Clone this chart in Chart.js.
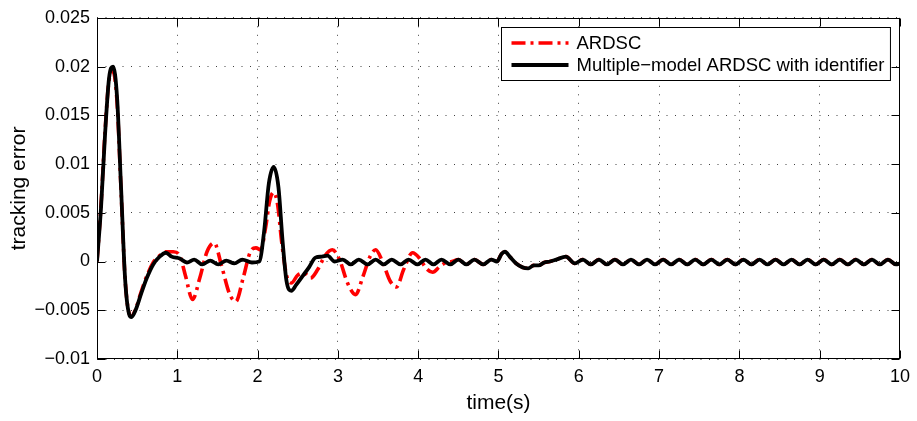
<!DOCTYPE html>
<html>
<head>
<meta charset="utf-8">
<script src="https://cdn.jsdelivr.net/npm/chart.js@4/dist/chart.umd.min.js"></script>
<style>
html,body{margin:0;padding:0;background:#fff;}
#wrap{width:917px;height:421px;position:relative;}
</style>
</head>
<body>
<div id="wrap"><canvas id="c" width="917" height="421"></canvas></div>
<script>
const FONT = "'Liberation Sans', Arial, Helvetica, sans-serif";

const xTickValues = [0,1,2,3,4,5,6,7,8,9,10];
const xTickLabels = ['0','1','2','3','4','5','6','7','8','9','10'];
const yTickValues = [-0.01,-0.005,0,0.005,0.01,0.015,0.02,0.025];
const yTickLabels = ['\u22120.01','\u22120.005','0','0.005','0.01','0.015','0.02','0.025'];
const seriesNames = ['ARDSC','Multiple\u2212model ARDSC with identifier'];
const axisTitles = {x:'time(s)', y:'tracking error'};

// Multiple-model ARDSC with identifier (black) — first part
const mmTimes = [0.00,0.05,0.10,0.15,0.20,0.25,0.30,0.35,0.40,0.43,0.48,0.55,0.62,0.70,0.78,0.86,0.93,
  1.03,1.12,1.21,1.31,1.41,1.51,1.61,1.71,1.81,1.93,2.02,2.08,2.14,2.20,2.26,2.31,2.36,2.42,2.48,2.56,2.64,2.72,2.80,2.87,2.96,
  3.06,3.16,3.26,3.37,3.47,3.57,3.67,3.78,3.88,3.99,4.09,4.19,4.29,4.40];
const mmValues = [0,0.0055,0.0130,0.0188,0.0200,0.0168,0.0075,-0.0018,-0.0054,-0.0057,-0.0050,-0.0033,-0.0017,-0.0003,0.0005,0.0009,0.0005,
  0.0003,-0.0001,0.0002,-0.0003,0.0001,-0.0003,0.0001,-0.0002,0.0002,-0.0001,0.0000,0.0030,0.0080,0.0097,0.0076,0.0022,-0.0020,-0.0030,-0.0024,-0.0015,-0.0006,0.0004,0.0005,0.0006,0.0000,
  0.0002,-0.0003,0.0002,-0.0003,0.0002,-0.0003,0.0002,-0.0003,0.0002,-0.0003,0.0002,-0.0003,0.0002,-0.0003];

// ARDSC (red dash-dot) — first part
const ardscTimes = [0.00,0.05,0.10,0.15,0.20,0.25,0.30,0.35,0.40,0.43,0.48,0.55,0.62,0.70,0.78,0.86,0.95,
  1.03,1.10,1.19,1.28,1.37,1.46,1.55,1.65,1.73,1.82,1.91,1.98,2.04,2.10,2.15,2.20,2.25,2.30,2.36,2.42,2.50,2.58,2.66,2.75,2.84,2.93,
  3.02,3.12,3.22,3.31,3.40,3.47,3.55,3.65,3.73,3.82,3.93,4.02,4.10,4.18,4.27,4.35,4.42];
const ardscValues = [0,0.0058,0.0133,0.0186,0.0195,0.0163,0.0072,-0.0018,-0.0053,-0.0056,-0.0049,-0.0031,-0.0015,-0.0001,0.0006,0.0010,0.0010,
  0.0006,-0.0014,-0.0039,-0.0017,0.0010,0.0019,-0.0004,-0.0033,-0.0041,-0.0017,0.0010,0.0014,0.0012,0.0035,0.0062,0.0071,0.0058,0.0020,-0.0014,-0.0022,-0.0014,-0.0012,-0.0017,-0.0008,0.0006,0.0012,
  0.0002,-0.0022,-0.0034,-0.0016,0.0005,0.0012,0.0001,-0.0020,-0.0026,-0.0008,0.0009,0.0003,-0.0007,-0.0011,-0.0005,-0.0001,0.0000];

// Common tail where both controllers coincide
const tailTimes = [4.50,4.60,4.70,4.81,4.91,4.98,5.04,5.08,5.14,5.22,5.30,5.37,5.44,5.50,5.57,5.64,5.72,5.84,5.95,
  6.05,6.15,6.25,6.35,6.45,6.55,6.65,6.75,6.85,6.95,7.05,7.15,7.25,7.35,7.45,7.55,7.65,7.75,7.85,7.95,
  8.05,8.15,8.25,8.35,8.45,8.55,8.65,8.75,8.85,8.95,9.05,9.15,9.25,9.35,9.45,9.55,9.65,9.75,9.85,9.95,10.00];
const tailValues = [0.0002,-0.0003,0.0002,-0.0003,0.0002,0.0000,0.0008,0.0010,0.0005,-0.0002,-0.0006,-0.0007,-0.0004,-0.0004,-0.0001,0.0000,0.0002,0.0005,-0.0002,
  0.0002,-0.0003,0.0002,-0.0003,0.0002,-0.0003,0.0002,-0.0003,0.0002,-0.0003,0.0002,-0.0003,0.0002,-0.0003,0.0002,-0.0003,0.0002,-0.0003,0.0002,-0.0003,
  0.0002,-0.0003,0.0002,-0.0003,0.0002,-0.0003,0.0002,-0.0003,0.0002,-0.0003,0.0002,-0.0003,0.0002,-0.0003,0.0002,-0.0003,0.0002,-0.0003,0.0002,-0.0003,-0.0002];

function pts(ts, vs){ return ts.map((t,i)=>({x:t, y:vs[i]})); }

const framePlugin = {
  id:'frame',
  afterDatasetsDraw(chart){
    const {ctx, chartArea:a, scales} = chart;
    const xs = scales.x, ys = scales.y;
    const L = Math.round(a.left)+0.5, R = Math.round(a.right)-0.5, T = Math.round(a.top)+0.5, B = Math.round(a.bottom)-0.5;
    ctx.save();
    ctx.setLineDash([]);
    ctx.strokeStyle = '#000';
    ctx.lineWidth = 1;
    ctx.beginPath();
    const tl = 8;
    xTickValues.forEach(v=>{
      const p = Math.round(xs.getPixelForValue(v))+0.5;
      ctx.moveTo(p,B); ctx.lineTo(p,B-tl);
      ctx.moveTo(p,T); ctx.lineTo(p,T+tl);
    });
    yTickValues.forEach(v=>{
      const p = Math.round(ys.getPixelForValue(v))+0.5;
      ctx.moveTo(L,p); ctx.lineTo(L+tl,p);
      ctx.moveTo(R,p); ctx.lineTo(R-tl,p);
    });
    ctx.stroke();
    ctx.strokeRect(L,T,R-L,B-T);
    ctx.restore();
  },
  afterDraw(chart){
    const {ctx, chartArea:a} = chart;
    const ds = chart.data.datasets;
    ctx.save();
    ctx.font = '18.5px ' + FONT;
    const textW = Math.max(...ds.map(d=>ctx.measureText(d.label).width));
    const padL = 10, sampleW = 57, gap = 8, padR = 6, rowH = 22, padV = 4.5;
    const w = padL + sampleW + gap + textW + padR;
    const h = padV*2 + rowH*ds.length;
    const bx = Math.round(a.right - 10 - w) + 0.5;
    const by = Math.round(a.top + 9) + 0.5;
    ctx.fillStyle = '#fff';
    ctx.fillRect(bx, by, w, h);
    ctx.strokeStyle = '#000';
    ctx.lineWidth = 1;
    ctx.setLineDash([]);
    ctx.strokeRect(bx, by, w, h);
    ds.forEach((d,i)=>{
      const cy = by + padV + rowH*i + rowH/2;
      ctx.beginPath();
      ctx.strokeStyle = d.borderColor;
      ctx.lineWidth = d.borderWidth;
      ctx.setLineDash(d.borderDash || []);
      ctx.lineCap = 'butt';
      ctx.moveTo(bx + padL, cy);
      ctx.lineTo(bx + padL + sampleW, cy);
      ctx.stroke();
      ctx.setLineDash([]);
      ctx.fillStyle = '#000';
      ctx.textBaseline = 'middle';
      ctx.textAlign = 'left';
      ctx.fillText(d.label, bx + padL + sampleW + gap, cy + 1);
    });
    ctx.restore();
  }
};

new Chart(document.getElementById('c'), {
  type:'line',
  data:{
    datasets:[
      {
        label: seriesNames[0],
        data: pts(ardscTimes.concat(tailTimes), ardscValues.concat(tailValues)),
        borderColor:'#ff0000',
        borderWidth:3.6,
        borderDash:[14,5,3,5],
        cubicInterpolationMode:'monotone',
        pointRadius:0,
        fill:false,
        order:1
      },
      {
        label: seriesNames[1],
        data: pts(mmTimes.concat(tailTimes), mmValues.concat(tailValues)),
        borderColor:'#000000',
        borderWidth:3.8,
        cubicInterpolationMode:'monotone',
        pointRadius:0,
        fill:false,
        order:0
      }
    ]
  },
  options:{
    responsive:false,
    animation:false,
    devicePixelRatio:1,
    layout:{padding:{top:16,right:14,left:0,bottom:0}},
    plugins:{legend:{display:false}, tooltip:{enabled:false}},
    elements:{point:{radius:0}},
    scales:{
      x:{
        type:'linear', min:0, max:10,
        afterBuildTicks:(s)=>{ s.ticks = xTickValues.map(v=>({value:v})); },
        afterFit:(s)=>{ s.height = 62; },
        ticks:{
          callback:(v)=>xTickLabels[xTickValues.indexOf(v)],
          font:{family:FONT, size:18}, color:'#000', padding:7, maxRotation:0, autoSkip:false
        },
        grid:{color:'rgba(0,0,0,0.75)', lineWidth:1, drawTicks:false},
        border:{display:false, dash:[1,7.5]},
        title:{display:true, text:axisTitles.x, font:{family:FONT, size:21}, color:'#000', padding:{top:0,bottom:5}}
      },
      y:{
        type:'linear', min:-0.01, max:0.025,
        afterBuildTicks:(s)=>{ s.ticks = yTickValues.map(v=>({value:v})); },
        afterFit:(s)=>{ s.width = 97; },
        ticks:{
          callback:(v)=>{ const i = yTickValues.findIndex(t=>Math.abs(t-v)<1e-9); return i>=0 ? yTickLabels[i] : ''; },
          font:{family:FONT, size:18}, color:'#000', padding:7, autoSkip:false
        },
        grid:{color:'rgba(0,0,0,0.75)', lineWidth:1, drawTicks:false},
        border:{display:false, dash:[1,7.5]},
        title:{display:true, text:axisTitles.y, font:{family:FONT, size:21}, color:'#000', padding:{top:7,bottom:0}}
      }
    }
  },
  plugins:[framePlugin]
});
</script>
</body>
</html>
